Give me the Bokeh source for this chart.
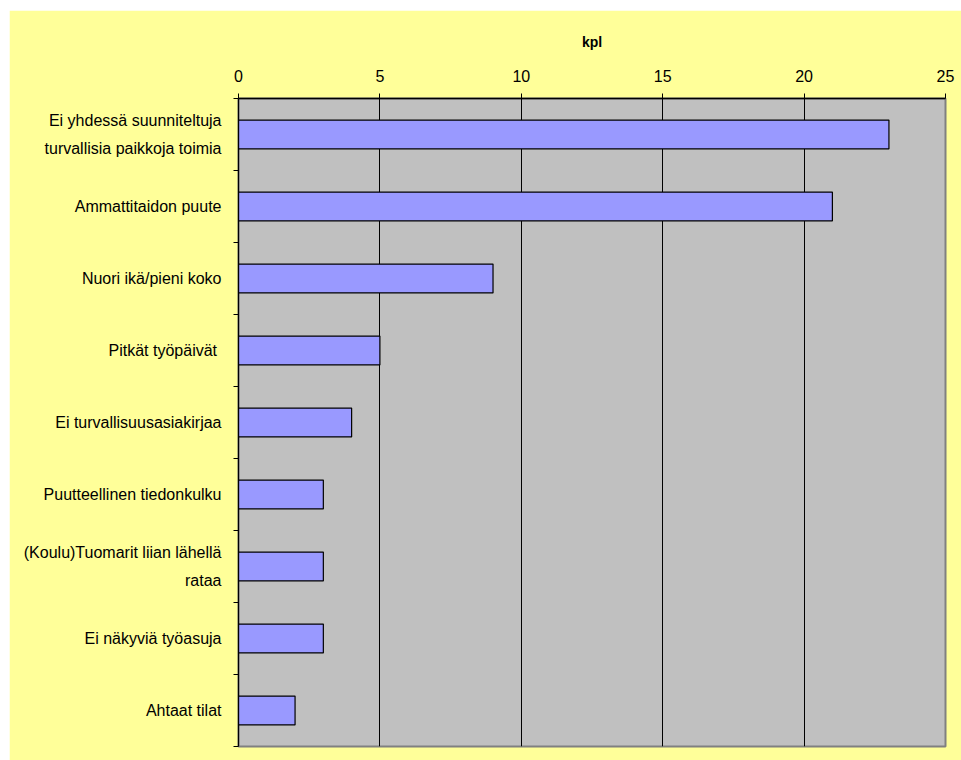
from bokeh.plotting import figure
from bokeh.models import Range1d, FixedTicker
from bokeh.embed import file_html
from bokeh.resources import INLINE

categories = [
    "Ei yhdessä suunniteltuja\nturvallisia paikkoja toimia",
    "Ammattitaidon puute",
    "Nuori ikä/pieni koko",
    "Pitkät työpäivät ",
    "Ei turvallisuusasiakirjaa",
    "Puutteellinen tiedonkulku",
    "(Koulu)Tuomarit liian lähellä\nrataa",
    "Ei näkyviä työasuja",
    "Ahtaat tilat",
]
values = [23, 21, 9, 5, 4, 3, 3, 3, 2]
x_ticks = [0, 5, 10, 15, 20, 25]
axis_title = "kpl"

FONT = "Liberation Sans"
n = len(categories)
centers = [i + 0.5 for i in range(n)]
bounds = [i for i in range(n + 1)]

p = figure(width=952, height=750, output_backend="svg", toolbar_location=None,
           x_range=Range1d(0, 25), y_range=Range1d(n, 0),
           x_axis_location="above",
           min_border_left=229, min_border_right=16, min_border_top=88, min_border_bottom=14)
p.margin = (10, 0, 0, 9)

p.background_fill_color = "#C0C0C0"
p.border_fill_color = "#FFFF99"
p.outline_line_color = "#808080"
p.outline_line_width = 2

p.hbar(y=centers, right=values, left=0, height=0.4,
       fill_color="#9999FF", line_color="#000000", line_width=1.2)

# x axis (top)
xa = p.xaxis[0]
xa.ticker = FixedTicker(ticks=x_ticks, minor_ticks=[])
xa.axis_label = axis_title
xa.axis_label_text_font = FONT
xa.axis_label_text_font_style = "bold"
xa.axis_label_text_font_size = "14px"
xa.axis_label_text_color = "#000000"
xa.axis_label_standoff = 17
xa.major_label_text_font = FONT
xa.major_label_text_font_size = "16px"
xa.major_label_text_color = "#000000"
xa.major_label_standoff = 12
xa.major_tick_out = 5
xa.major_tick_in = 0
xa.minor_tick_out = 0
xa.axis_line_color = "#000000"
xa.axis_line_width = 1.5
xa.major_tick_line_color = "#000000"

# y axis (left)
ya = p.yaxis[0]
ya.ticker = FixedTicker(ticks=centers, minor_ticks=bounds)
ya.major_label_overrides = {c: lab for c, lab in zip(centers, categories)}
ya.major_label_text_font = FONT
ya.major_label_text_font_size = "16px"
ya.major_label_text_color = "#000000"
ya.major_label_text_line_height = 1.6
ya.major_label_standoff = 12
ya.major_tick_out = 0
ya.major_tick_in = 0
ya.minor_tick_out = 5
ya.minor_tick_in = 0
ya.minor_tick_line_color = "#000000"
ya.axis_line_color = "#000000"
ya.axis_line_width = 1.2

p.xgrid.ticker = FixedTicker(ticks=x_ticks)
p.xgrid.grid_line_color = "#000000"
p.xgrid.grid_line_width = 1
p.ygrid.grid_line_color = None

open("out.html", "w").write(file_html(p, INLINE))
